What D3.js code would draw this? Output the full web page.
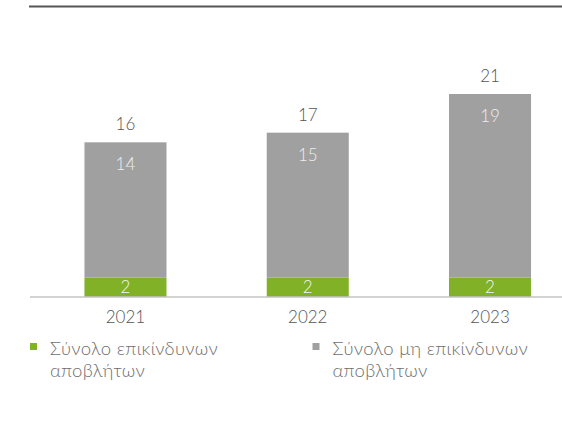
<!DOCTYPE html>
<html>
<head>
<meta charset="utf-8">
<script src="https://cdn.jsdelivr.net/npm/d3@7"></script>
<style>
    body { margin: 0; background: #fff; }
    svg text { font-family: Lato, "Open Sans", sans-serif; font-weight: 300; }
</style>
</head>
<body>
<svg></svg>
<script>
const years = ['2021', '2022', '2023'],
    hazardous = [2, 2, 2],
    nonHazardous = [14, 15, 19],
    totals = [16, 17, 21];

const seriesKeys = ['hazardous', 'nonHazardous'],
    seriesNames = ['Σύνολο επικίνδυνων αποβλήτων', 'Σύνολο μη επικίνδυνων αποβλήτων'],
    seriesColors = ['#80b127', '#a0a0a0'];

var width = 562,
    height = 432,
    baseY = 297,
    topY = 94;

var svg = d3.select('svg')
    .attr('width', width)
    .attr('height', height);

var rows = years.map(function(y, i) {
    return {year: y, hazardous: hazardous[i], nonHazardous: nonHazardous[i], total: totals[i]};
});

var x = d3.scaleBand()
    .domain(years)
    .range([48, 567.5])
    .paddingInner(0.55)
    .paddingOuter(0.2);

var y = d3.scaleLinear()
    .domain([0, d3.max(totals)])
    .range([baseY, topY]);

var color = d3.scaleOrdinal()
    .domain(seriesKeys)
    .range(seriesColors);

var stacked = d3.stack().keys(seriesKeys)(rows);

// top rule
svg.append('line')
    .attr('x1', 29).attr('x2', width)
    .attr('y1', 6.5).attr('y2', 6.5)
    .style('stroke', '#555')
    .style('stroke-width', 2);

var layers = svg.selectAll('.layer')
    .data(stacked)
  .enter().append('g')
    .attr('class', 'layer')
    .style('fill', function(d) { return color(d.key); });

layers.selectAll('rect')
    .data(function(d) { return d; })
  .enter().append('rect')
    .attr('x', function(d) { return x(d.data.year); })
    .attr('y', function(d) { return y(d[1]); })
    .attr('width', x.bandwidth())
    .attr('height', function(d) { return y(d[0]) - y(d[1]); });

// baseline + year labels
var xAxis = svg.append('g')
    .attr('transform', 'translate(0,' + baseY + ')')
    .call(d3.axisBottom(x).tickSize(0).tickPadding(14));
xAxis.select('.domain').remove();
xAxis.insert('line', ':first-child')
    .attr('x1', 30).attr('x2', width)
    .style('stroke', '#c4c4c4')
    .style('stroke-width', 1.5);
xAxis.selectAll('text')
    .style('font-size', '17px')
    .style('fill', '#555');

// green segment labels
svg.selectAll('.lbl-haz')
    .data(stacked[0])
  .enter().append('text')
    .attr('class', 'lbl-haz')
    .attr('x', function(d) { return x(d.data.year) + x.bandwidth() / 2; })
    .attr('y', function(d) { return (y(d[0]) + y(d[1])) / 2; })
    .attr('dy', '0.35em')
    .attr('text-anchor', 'middle')
    .style('font-size', '17px')
    .style('fill', '#f4f4f4')
    .text(function(d) { return d.data.hazardous; });

// gray segment labels
svg.selectAll('.lbl-non')
    .data(stacked[1])
  .enter().append('text')
    .attr('class', 'lbl-non')
    .attr('x', function(d) { return x(d.data.year) + x.bandwidth() / 2; })
    .attr('y', function(d) { return y(d[1]) + 22; })
    .attr('dy', '0.35em')
    .attr('text-anchor', 'middle')
    .style('font-size', '17px')
    .style('fill', '#eeeeee')
    .text(function(d) { return d.data.nonHazardous; });

// totals
svg.selectAll('.lbl-total')
    .data(rows)
  .enter().append('text')
    .attr('class', 'lbl-total')
    .attr('x', function(d) { return x(d.year) + x.bandwidth() / 2; })
    .attr('y', function(d) { return y(d.total) - 18; })
    .attr('dy', '0.35em')
    .attr('text-anchor', 'middle')
    .style('font-size', '17px')
    .style('fill', '#555')
    .text(function(d) { return d.total; });

// legend
var legendX = [30, 312.5];
var legend = svg.selectAll('.legend')
    .data(seriesKeys)
  .enter().append('g')
    .attr('class', 'legend')
    .attr('transform', function(d, i) { return 'translate(' + legendX[i] + ',343)'; });

legend.append('rect')
    .attr('width', 7)
    .attr('height', 7)
    .style('fill', function(d) { return color(d); });

legend.append('text')
    .attr('x', 20)
    .attr('y', 6)
    .style('font-size', '18.5px')
    .style('letter-spacing', '0.3px')
    .style('fill', '#6e6e6e')
    .each(function(d, i) {
        var words = seriesNames[i].split(' '),
            last = words.pop(),
            t = d3.select(this);
        t.append('tspan').attr('x', 20).attr('dy', '0.3em').text(words.join(' '));
        t.append('tspan').attr('x', 20).attr('dy', '1.2em').text(last);
    });
</script>
</body>
</html>
